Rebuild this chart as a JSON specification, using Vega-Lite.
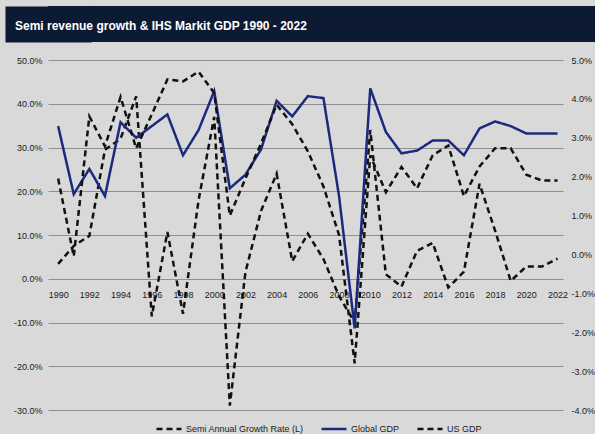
{
  "$schema": "https://vega.github.io/schema/vega-lite/v6.json",
  "background": "#d9d9d9",
  "padding": {"left": 5, "top": 6, "right": 0, "bottom": 0},
  "spacing": 14,
  "config": {
    "view": {"stroke": null},
    "font": "Liberation Sans",
    "axis": {"labelFont": "Liberation Sans", "labelFontSize": 9, "labelColor": "#1a1a1a"},
    "legend": {"labelFont": "Liberation Sans", "labelFontSize": 9, "labelColor": "#1a1a1a"}
  },
  "resolve": {"scale": {"color": "independent", "strokeDash": "independent"}},
  "datasets": {
    "semi": [
      {"year": 1990, "series": "Semi Annual Growth Rate (L)", "value": 3.4},
      {"year": 1991, "series": "Semi Annual Growth Rate (L)", "value": 7.5},
      {"year": 1992, "series": "Semi Annual Growth Rate (L)", "value": 9.8},
      {"year": 1993, "series": "Semi Annual Growth Rate (L)", "value": 29.5},
      {"year": 1994, "series": "Semi Annual Growth Rate (L)", "value": 32},
      {"year": 1995, "series": "Semi Annual Growth Rate (L)", "value": 41.7},
      {"year": 1996, "series": "Semi Annual Growth Rate (L)", "value": -8.6},
      {"year": 1997, "series": "Semi Annual Growth Rate (L)", "value": 10.7},
      {"year": 1998, "series": "Semi Annual Growth Rate (L)", "value": -8},
      {"year": 1999, "series": "Semi Annual Growth Rate (L)", "value": 18},
      {"year": 2000, "series": "Semi Annual Growth Rate (L)", "value": 37},
      {"year": 2001, "series": "Semi Annual Growth Rate (L)", "value": -29},
      {"year": 2002, "series": "Semi Annual Growth Rate (L)", "value": 1.5},
      {"year": 2003, "series": "Semi Annual Growth Rate (L)", "value": 15.5},
      {"year": 2004, "series": "Semi Annual Growth Rate (L)", "value": 24},
      {"year": 2005, "series": "Semi Annual Growth Rate (L)", "value": 4},
      {"year": 2006, "series": "Semi Annual Growth Rate (L)", "value": 10.3},
      {"year": 2007, "series": "Semi Annual Growth Rate (L)", "value": 4.5},
      {"year": 2008, "series": "Semi Annual Growth Rate (L)", "value": -4},
      {"year": 2009, "series": "Semi Annual Growth Rate (L)", "value": -10},
      {"year": 2010, "series": "Semi Annual Growth Rate (L)", "value": 34},
      {"year": 2011, "series": "Semi Annual Growth Rate (L)", "value": 1},
      {"year": 2012, "series": "Semi Annual Growth Rate (L)", "value": -1.8},
      {"year": 2013, "series": "Semi Annual Growth Rate (L)", "value": 6.4},
      {"year": 2014, "series": "Semi Annual Growth Rate (L)", "value": 8.2},
      {"year": 2015, "series": "Semi Annual Growth Rate (L)", "value": -2},
      {"year": 2016, "series": "Semi Annual Growth Rate (L)", "value": 1.6},
      {"year": 2017, "series": "Semi Annual Growth Rate (L)", "value": 21.7},
      {"year": 2018, "series": "Semi Annual Growth Rate (L)", "value": 11},
      {"year": 2019, "series": "Semi Annual Growth Rate (L)", "value": -0.5},
      {"year": 2020, "series": "Semi Annual Growth Rate (L)", "value": 2.8},
      {"year": 2021, "series": "Semi Annual Growth Rate (L)", "value": 2.8},
      {"year": 2022, "series": "Semi Annual Growth Rate (L)", "value": 4.6}
    ],
    "gdp": [
      {"year": 1990, "series": "Global GDP", "value": 3.3},
      {"year": 1991, "series": "Global GDP", "value": 1.55},
      {"year": 1992, "series": "Global GDP", "value": 2.2},
      {"year": 1993, "series": "Global GDP", "value": 1.5},
      {"year": 1994, "series": "Global GDP", "value": 3.4},
      {"year": 1995, "series": "Global GDP", "value": 3.0},
      {"year": 1996, "series": "Global GDP", "value": 3.3},
      {"year": 1997, "series": "Global GDP", "value": 3.6},
      {"year": 1998, "series": "Global GDP", "value": 2.55},
      {"year": 1999, "series": "Global GDP", "value": 3.2},
      {"year": 2000, "series": "Global GDP", "value": 4.2},
      {"year": 2001, "series": "Global GDP", "value": 1.7},
      {"year": 2002, "series": "Global GDP", "value": 2.05},
      {"year": 2003, "series": "Global GDP", "value": 2.7},
      {"year": 2004, "series": "Global GDP", "value": 3.95},
      {"year": 2005, "series": "Global GDP", "value": 3.55},
      {"year": 2006, "series": "Global GDP", "value": 4.07},
      {"year": 2007, "series": "Global GDP", "value": 4.02},
      {"year": 2008, "series": "Global GDP", "value": 1.5},
      {"year": 2009, "series": "Global GDP", "value": -1.9},
      {"year": 2010, "series": "Global GDP", "value": 4.27},
      {"year": 2011, "series": "Global GDP", "value": 3.15},
      {"year": 2012, "series": "Global GDP", "value": 2.6},
      {"year": 2013, "series": "Global GDP", "value": 2.67},
      {"year": 2014, "series": "Global GDP", "value": 2.93},
      {"year": 2015, "series": "Global GDP", "value": 2.93},
      {"year": 2016, "series": "Global GDP", "value": 2.55},
      {"year": 2017, "series": "Global GDP", "value": 3.24},
      {"year": 2018, "series": "Global GDP", "value": 3.42},
      {"year": 2019, "series": "Global GDP", "value": 3.3},
      {"year": 2020, "series": "Global GDP", "value": 3.11},
      {"year": 2021, "series": "Global GDP", "value": 3.11},
      {"year": 2022, "series": "Global GDP", "value": 3.11},
      {"year": 1990, "series": "US GDP", "value": 1.95},
      {"year": 1991, "series": "US GDP", "value": -0.05},
      {"year": 1992, "series": "US GDP", "value": 3.55},
      {"year": 1993, "series": "US GDP", "value": 2.78},
      {"year": 1994, "series": "US GDP", "value": 4.05},
      {"year": 1995, "series": "US GDP", "value": 2.73},
      {"year": 1996, "series": "US GDP", "value": 3.6},
      {"year": 1997, "series": "US GDP", "value": 4.5},
      {"year": 1998, "series": "US GDP", "value": 4.45},
      {"year": 1999, "series": "US GDP", "value": 4.7},
      {"year": 2000, "series": "US GDP", "value": 4.15},
      {"year": 2001, "series": "US GDP", "value": 1.0},
      {"year": 2002, "series": "US GDP", "value": 1.95},
      {"year": 2003, "series": "US GDP", "value": 2.85},
      {"year": 2004, "series": "US GDP", "value": 3.85},
      {"year": 2005, "series": "US GDP", "value": 3.35},
      {"year": 2006, "series": "US GDP", "value": 2.65},
      {"year": 2007, "series": "US GDP", "value": 1.75},
      {"year": 2008, "series": "US GDP", "value": 0.5},
      {"year": 2009, "series": "US GDP", "value": -2.8},
      {"year": 2010, "series": "US GDP", "value": 2.55},
      {"year": 2011, "series": "US GDP", "value": 1.6},
      {"year": 2012, "series": "US GDP", "value": 2.25},
      {"year": 2013, "series": "US GDP", "value": 1.7},
      {"year": 2014, "series": "US GDP", "value": 2.55},
      {"year": 2015, "series": "US GDP", "value": 2.8},
      {"year": 2016, "series": "US GDP", "value": 1.5},
      {"year": 2017, "series": "US GDP", "value": 2.26},
      {"year": 2018, "series": "US GDP", "value": 2.73},
      {"year": 2019, "series": "US GDP", "value": 2.73},
      {"year": 2020, "series": "US GDP", "value": 2.05},
      {"year": 2021, "series": "US GDP", "value": 1.9},
      {"year": 2022, "series": "US GDP", "value": 1.9}
    ]
  },
  "vconcat": [
    {
      "width": 547,
      "height": 36,
      "view": {"fill": "#0c1a33", "stroke": null},
      "title": {
        "text": "Semi revenue growth & IHS Markit GDP  1990 - 2022",
        "anchor": "start",
        "orient": "top",
        "offset": -27,
        "dx": -33,
        "color": "#ffffff",
        "fontSize": 12,
        "fontWeight": "bold",
        "font": "Liberation Sans"
      },
      "data": {"values": [{"a": 1}]},
      "mark": {"type": "point", "opacity": 0},
      "encoding": {
        "y": {
          "datum": 0.5,
          "type": "quantitative",
          "scale": {"domain": [0, 1]},
          "axis": {
            "orient": "left",
            "domain": true,
            "domainColor": "#0c1a33",
            "domainWidth": 86,
            "domainCap": "butt",
            "labels": false,
            "ticks": false,
            "grid": false,
            "title": null
          }
        }
      }
    },
    {
      "width": 515,
      "height": 350,
      "encoding": {
        "x": {
          "field": "year",
          "type": "quantitative",
          "scale": {"domain": [1989.35, 2022.35], "nice": false, "zero": false},
          "axis": {
            "orient": "bottom",
            "offset": -131.25,
            "values": [1990, 1992, 1994, 1996, 1998, 2000, 2002, 2004, 2006, 2008, 2010, 2012, 2014, 2016, 2018, 2020, 2022],
            "format": "d",
            "domain": false,
            "ticks": false,
            "grid": false,
            "labelPadding": 12,
            "labelFlush": false,
            "title": null
          }
        },
        "color": {
          "field": "series",
          "type": "nominal",
          "scale": {"domain": ["Semi Annual Growth Rate (L)", "Global GDP", "US GDP"], "range": ["#111111", "#1b2a7d", "#111111"]},
          "legend": {
            "orient": "none",
            "legendX": 107,
            "legendY": 355,
            "direction": "horizontal",
            "title": null,
            "symbolType": "stroke",
            "symbolSize": 625,
            "symbolStrokeWidth": 2.5,
            "columnPadding": 12,
            "labelOffset": 3
          }
        },
        "strokeDash": {
          "field": "series",
          "type": "nominal",
          "scale": {"domain": ["Semi Annual Growth Rate (L)", "Global GDP", "US GDP"], "range": [[6, 4], [1, 0], [6, 4]]},
          "legend": {
            "orient": "none",
            "legendX": 107,
            "legendY": 355,
            "direction": "horizontal",
            "title": null,
            "symbolType": "stroke",
            "symbolSize": 625,
            "symbolStrokeWidth": 2.5,
            "columnPadding": 12,
            "labelOffset": 3
          }
        }
      },
      "layer": [
        {
          "data": {"name": "semi"},
          "mark": {"type": "line", "strokeWidth": 2.5},
          "encoding": {
            "y": {
              "field": "value",
              "type": "quantitative",
              "scale": {"domain": [-30, 50], "nice": false, "zero": false},
              "axis": {
                "orient": "left",
                "values": [-30, -20, -10, 0, 10, 20, 30, 40, 50],
                "labelExpr": "(datum.value < 0 ? '-' : '') + format(abs(datum.value), '.1f') + '%'",
                "grid": true,
                "gridColor": "#8f8f8f",
                "gridWidth": 1,
                "domain": false,
                "ticks": false,
                "labelPadding": 6,
                "minExtent": 43,
                "title": null
              }
            }
          }
        },
        {
          "data": {"name": "gdp"},
          "mark": {"type": "line", "strokeWidth": 2.5},
          "encoding": {
            "y": {
              "field": "value",
              "type": "quantitative",
              "scale": {"domain": [-4, 5], "nice": false, "zero": false},
              "axis": {
                "orient": "right",
                "values": [-4, -3, -2, -1, 0, 1, 2, 3, 4, 5],
                "labelExpr": "(datum.value < 0 ? '-' : '') + format(abs(datum.value), '.1f') + '%'",
                "grid": false,
                "domain": false,
                "ticks": false,
                "labelPadding": 8,
                "title": null
              }
            }
          }
        }
      ],
      "resolve": {"scale": {"y": "independent"}}
    }
  ]
}
